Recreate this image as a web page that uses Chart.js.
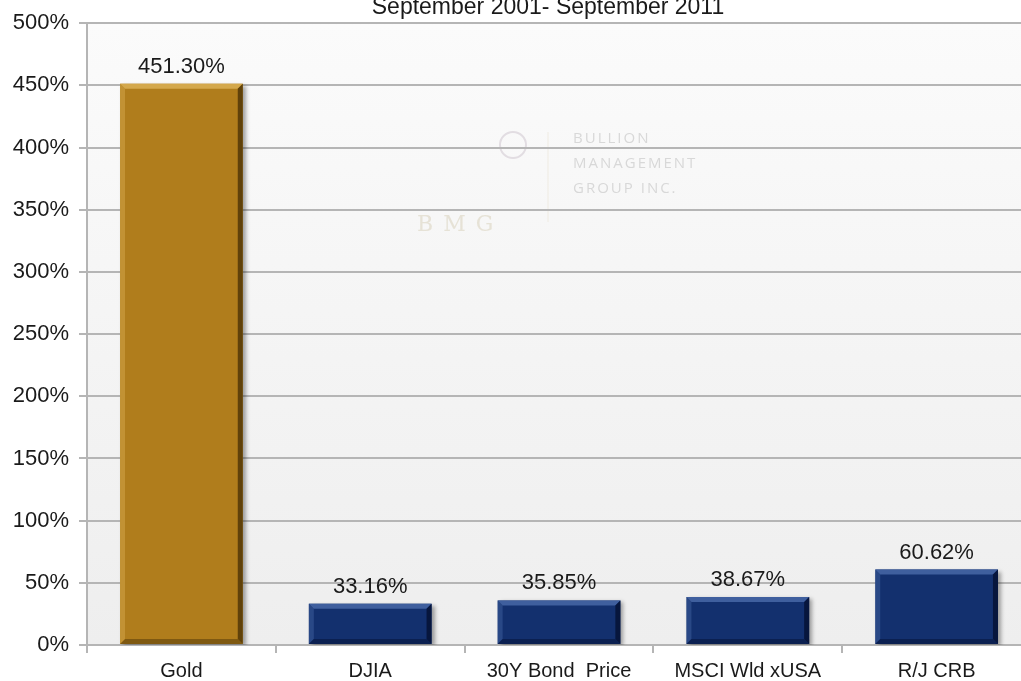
<!DOCTYPE html>
<html lang="en">

<head>
    <meta charset="UTF-8">
    <title>September 2001- September 2011</title>
    <script src="https://cdn.jsdelivr.net/npm/chart.js"></script>
    <style>
        html, body { margin: 0; padding: 0; background: #fff; overflow: hidden; }
        #wrap { position: relative; width: 1031px; height: 681px; }
    </style>
</head>

<body>
    <div id="wrap"><canvas id="myChart"></canvas></div>
    <script>
        const categories = ['Gold', 'DJIA', '30Y Bond  Price', 'MSCI Wld xUSA', 'R/J CRB'];
        const returns = [451.30, 33.16, 35.85, 38.67, 60.62];
        const valueLabels = ['451.30%', '33.16%', '35.85%', '38.67%', '60.62%'];
        const titleText = 'September 2001- September 2011';

        const FONT = '"Liberation Sans", Arial, sans-serif';
        const gold = { main: '#b07d1c', light: '#d4a84c', dark: '#5f410a' };
        const navy = { main: '#13306e', light: '#3f5f9e', dark: '#07163d' };
        const palette = categories.map((c, i) => i === 0 ? gold : navy);

        // light plot background + watermark + title
        const backdrop = {
            id: 'backdrop',
            beforeDraw(chart) {
                const { ctx, chartArea: a } = chart;
                ctx.save();
                const g = ctx.createLinearGradient(0, a.top, 0, a.bottom);
                g.addColorStop(0, '#fbfbfb');
                g.addColorStop(1, '#eeeeee');
                ctx.fillStyle = g;
                ctx.fillRect(a.left, a.top, a.right - a.left, a.bottom - a.top);

                // watermark
                ctx.strokeStyle = '#e2dde2';
                ctx.lineWidth = 2;
                ctx.beginPath();
                ctx.arc(513, 145, 13, 0, Math.PI * 2);
                ctx.stroke();
                ctx.strokeStyle = '#efebe2';
                ctx.lineWidth = 1;
                ctx.beginPath();
                ctx.moveTo(548, 132);
                ctx.lineTo(548, 222);
                ctx.stroke();
                ctx.fillStyle = '#d8d8d8';
                ctx.font = '15px "Open Sans", sans-serif';
                ctx.textBaseline = 'alphabetic';
                ctx.letterSpacing = '2px';
                ctx.fillText('BULLION', 573, 143);
                ctx.fillText('MANAGEMENT', 573, 168);
                ctx.fillText('GROUP INC.', 573, 193);
                ctx.fillStyle = '#e6e2d6';
                ctx.font = '22px "DejaVu Serif", serif';
                ctx.letterSpacing = '10px';
                ctx.fillText('BMG', 417, 231);
                ctx.letterSpacing = '0px';

                ctx.fillStyle = '#1a1a1a';
                ctx.font = '23px ' + FONT;
                ctx.textAlign = 'center';
                ctx.fillText(titleText, 548, 14);
                ctx.restore();
            }
        };

        // drop shadow under bars
        const barShadow = {
            id: 'barShadow',
            beforeDatasetDraw(chart) {
                const ctx = chart.ctx;
                ctx.save();
                ctx.shadowColor = 'rgba(0,0,0,0.35)';
                ctx.shadowOffsetX = 3;
                ctx.shadowOffsetY = 2;
                ctx.shadowBlur = 4;
            },
            afterDatasetDraw(chart) {
                chart.ctx.restore();
            }
        };

        // bevel edges + value labels
        const bevelLabels = {
            id: 'bevelLabels',
            afterDatasetsDraw(chart) {
                const ctx = chart.ctx;
                const meta = chart.getDatasetMeta(0);
                ctx.save();
                meta.data.forEach((bar, i) => {
                    const c = palette[i];
                    const l = bar.x - bar.width / 2, r = bar.x + bar.width / 2;
                    const t = bar.y, b = bar.base;
                    const s = 5;
                    ctx.fillStyle = c.light;
                    ctx.beginPath();
                    ctx.moveTo(l, t); ctx.lineTo(r, t); ctx.lineTo(r - s, t + s); ctx.lineTo(l + s, t + s);
                    ctx.closePath(); ctx.fill();
                    ctx.globalAlpha = 0.5;
                    ctx.beginPath();
                    ctx.moveTo(l, t); ctx.lineTo(l + s, t + s); ctx.lineTo(l + s, b - s); ctx.lineTo(l, b);
                    ctx.closePath(); ctx.fill();
                    ctx.globalAlpha = 1;
                    ctx.fillStyle = c.dark;
                    ctx.beginPath();
                    ctx.moveTo(r, t); ctx.lineTo(r, b); ctx.lineTo(r - s, b - s); ctx.lineTo(r - s, t + s);
                    ctx.closePath(); ctx.fill();
                    ctx.globalAlpha = 0.6;
                    ctx.beginPath();
                    ctx.moveTo(l, b); ctx.lineTo(r, b); ctx.lineTo(r - s, b - s); ctx.lineTo(l + s, b - s);
                    ctx.closePath(); ctx.fill();
                    ctx.globalAlpha = 1;

                    ctx.fillStyle = '#1a1a1a';
                    ctx.font = '22px ' + FONT;
                    ctx.textAlign = 'center';
                    ctx.textBaseline = 'alphabetic';
                    ctx.fillText(valueLabels[i], bar.x, t - 11);
                });
                ctx.restore();
            }
        };

        const ctx = document.getElementById('myChart').getContext('2d');
        const chart = new Chart(ctx, {
            type: 'bar',
            data: {
                labels: categories,
                datasets: [{
                    data: returns,
                    backgroundColor: palette.map(c => c.main),
                    borderWidth: 0,
                    categoryPercentage: 1,
                    barPercentage: 0.65
                }]
            },
            options: {
                responsive: true,
                maintainAspectRatio: false,
                animation: false,
                devicePixelRatio: 1,
                layout: { padding: { top: 21, right: 0, left: 0, bottom: 0 } },
                plugins: {
                    legend: { display: false },
                    tooltip: { enabled: false },
                    title: { display: false }
                },
                scales: {
                    x: {
                        afterFit: s => { s.height = 36; },
                        grid: { offset: true, drawOnChartArea: false, tickLength: 8, color: '#b5b5b5', lineWidth: 2 },
                        border: { display: false },
                        ticks: { color: '#1a1a1a', font: { family: FONT, size: 20 }, padding: 6, maxRotation: 0 }
                    },
                    y: {
                        min: 0,
                        max: 500,
                        afterFit: s => { s.width = 87; },
                        grid: { color: '#b5b5b5', lineWidth: 2, tickLength: 8 },
                        border: { color: '#b5b5b5', width: 2 },
                        ticks: {
                            stepSize: 50,
                            padding: 10,
                            color: '#1a1a1a',
                            font: { family: FONT, size: 22 },
                            callback: v => v + '%'
                        }
                    }
                }
            },
            plugins: [backdrop, barShadow, bevelLabels]
        });
    </script>
</body>

</html>
